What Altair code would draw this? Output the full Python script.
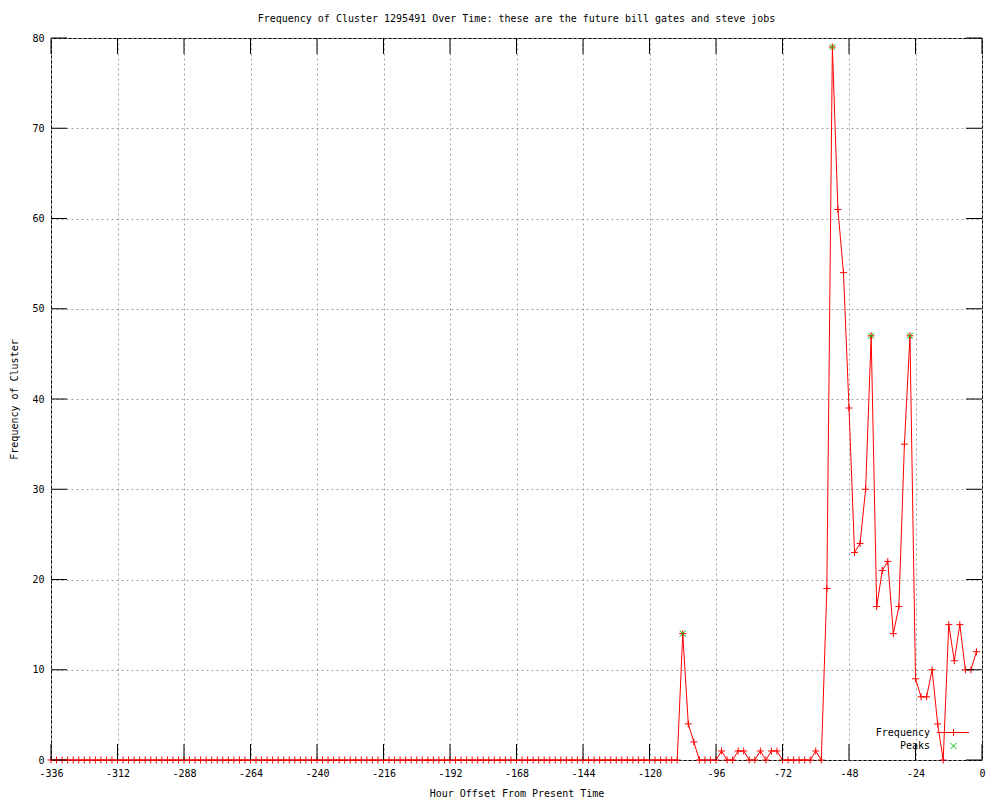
import altair as alt
import pandas as pd

TITLE = "Frequency of Cluster 1295491 Over Time: these are the future bill gates and steve jobs"
X_TITLE = "Hour Offset From Present Time"
Y_TITLE = "Frequency of Cluster"

# hour offsets, one sample every 2 hours
hours = list(range(-336, 0, 2))
frequency = [
    0, 0, 0, 0, 0, 0, 0, 0, 0, 0, 0, 0, 0, 0, 0, 0, 0, 0, 0,
    0, 0, 0, 0, 0, 0, 0, 0, 0, 0, 0, 0, 0, 0, 0, 0, 0, 0, 0,
    0, 0, 0, 0, 0, 0, 0, 0, 0, 0, 0, 0, 0, 0, 0, 0, 0, 0, 0,
    0, 0, 0, 0, 0, 0, 0, 0, 0, 0, 0, 0, 0, 0, 0, 0, 0, 0, 0,
    0, 0, 0, 0, 0, 0, 0, 0, 0, 0, 0, 0, 0, 0, 0, 0, 0, 0, 0,
    0, 0, 0, 0, 0, 0, 0, 0, 0, 0, 0, 0, 0, 0, 0, 0, 0, 0, 0,
    14, 4, 2, 0, 0, 0, 0,
    1, 0, 0, 1, 1, 0, 0, 1, 0, 1, 1, 0,
    0, 0, 0, 0, 0, 1, 0,
    19, 79, 61, 54, 39, 23, 24, 30, 47, 17, 21, 22, 14, 17,
    35, 47, 9, 7, 7, 10, 4, 0, 15, 11, 15, 10, 10, 12,
]
assert len(hours) == len(frequency)

peak_hours = [-108, -54, -40, -26]
peak_values = [14, 79, 47, 47]

x_ticks = list(range(-336, 1, 24))
y_ticks = list(range(0, 81, 10))

legend_labels = ["Frequency", "Peaks"]

W, H = 931, 722
TICK = 16
MONO = "DejaVu Sans Mono"
RED = "#ff0000"
GREEN = "#00c000"
PLUS = "M-1,0L1,0M0,-1L0,1"
CROSS = "M-1,-1L1,1M1,-1L-1,1"

df = pd.DataFrame({"hour": hours, "freq": frequency})
df_peaks = pd.DataFrame({"hour": peak_hours, "freq": peak_values})
df_xt = pd.DataFrame({"hour": x_ticks})
df_yt = pd.DataFrame({"freq": y_ticks})

xscale = alt.Scale(domain=[-336, 0], nice=False, zero=False)
yscale = alt.Scale(domain=[0, 80], nice=False)

x_axis = alt.Axis(
    values=x_ticks, title=X_TITLE, grid=True, ticks=False, domain=False,
    labelExpr="toString(datum.value)", labelPadding=8, labelFlush=False,
    titleX=W / 2, titleY=36, titleBaseline="alphabetic", titleAnchor="middle",
)
y_axis = alt.Axis(
    values=y_ticks, title=Y_TITLE, grid=True, ticks=False, domain=False,
    labelPadding=7, labelFlush=False,
    titleX=-37, titleY=H / 2, titleAngle=-90, titleBaseline="middle",
    titleAlign="center",
)

X = alt.X("hour:Q", scale=xscale, axis=x_axis)
Y = alt.Y("freq:Q", scale=yscale, axis=y_axis)

line = alt.Chart(df).mark_line(color=RED, strokeWidth=1, clip=False).encode(x=X, y=Y)
points = alt.Chart(df).mark_point(
    shape=PLUS, filled=False, stroke=RED, strokeWidth=1, size=49, opacity=1
).encode(x=X, y=Y)
peaks = alt.Chart(df_peaks).mark_point(
    shape=CROSS, filled=False, stroke=GREEN, strokeWidth=1, size=36, opacity=1
).encode(x=X, y=Y)

tick_style = dict(color="black", strokeWidth=1)
xt_bottom = alt.Chart(df_xt).mark_rule(**tick_style).encode(
    x=X, y=alt.value(H), y2=alt.value(H - TICK))
xt_top = alt.Chart(df_xt).mark_rule(**tick_style).encode(
    x=X, y=alt.value(0), y2=alt.value(TICK))
yt_left = alt.Chart(df_yt).mark_rule(**tick_style).encode(
    y=Y, x=alt.value(0), x2=alt.value(TICK))
yt_right = alt.Chart(df_yt).mark_rule(**tick_style).encode(
    y=Y, x=alt.value(W), x2=alt.value(W - TICK))

# chart title as a text mark above the plot
df_title = pd.DataFrame({"label": [TITLE]})
title_text = alt.Chart(df_title).mark_text(
    font=MONO, fontSize=10, align="center", baseline="alphabetic", color="black"
).encode(text="label:N", x=alt.value(W / 2), y=alt.value(-16))

# legend (bottom right, inside the plot)
df_leg1 = pd.DataFrame({"label": [legend_labels[0]]})
df_leg2 = pd.DataFrame({"label": [legend_labels[1]]})
leg_text1 = alt.Chart(df_leg1).mark_text(
    font=MONO, fontSize=10, align="right", baseline="middle", color="black"
).encode(text="label:N", x=alt.value(879), y=alt.value(695))
leg_text2 = alt.Chart(df_leg2).mark_text(
    font=MONO, fontSize=10, align="right", baseline="middle", color="black"
).encode(text="label:N", x=alt.value(879), y=alt.value(708))
leg_line = alt.Chart(df_leg1).mark_rule(color=RED, strokeWidth=1).encode(
    x=alt.value(886), x2=alt.value(918), y=alt.value(694.5))
leg_plus = alt.Chart(df_leg1).mark_point(
    shape=PLUS, filled=False, stroke=RED, strokeWidth=1, size=49, opacity=1
).encode(x=alt.value(902.5), y=alt.value(694.5))
leg_cross = alt.Chart(df_leg2).mark_point(
    shape=CROSS, filled=False, stroke=GREEN, strokeWidth=1, size=36, opacity=1
).encode(x=alt.value(902.5), y=alt.value(708))

chart = alt.layer(
    line, points, peaks, xt_bottom, xt_top, yt_left, yt_right, title_text,
    leg_text1, leg_text2, leg_line, leg_plus, leg_cross,
).properties(
    width=W, height=H,
    padding={"left": 43, "top": 30, "right": 10, "bottom": 45},
    autosize="none",
    background="white",
).configure_view(
    stroke="black", strokeWidth=1,
).configure_axis(
    labelFont=MONO, labelFontSize=10, labelColor="black",
    titleFont=MONO, titleFontSize=10, titleFontWeight="normal", titleColor="black",
    gridColor="#a0a0a0", gridDash=[2, 3], gridWidth=1, gridOpacity=1,
)

chart.save("out.html", embed_options={"renderer": "svg", "actions": False})
